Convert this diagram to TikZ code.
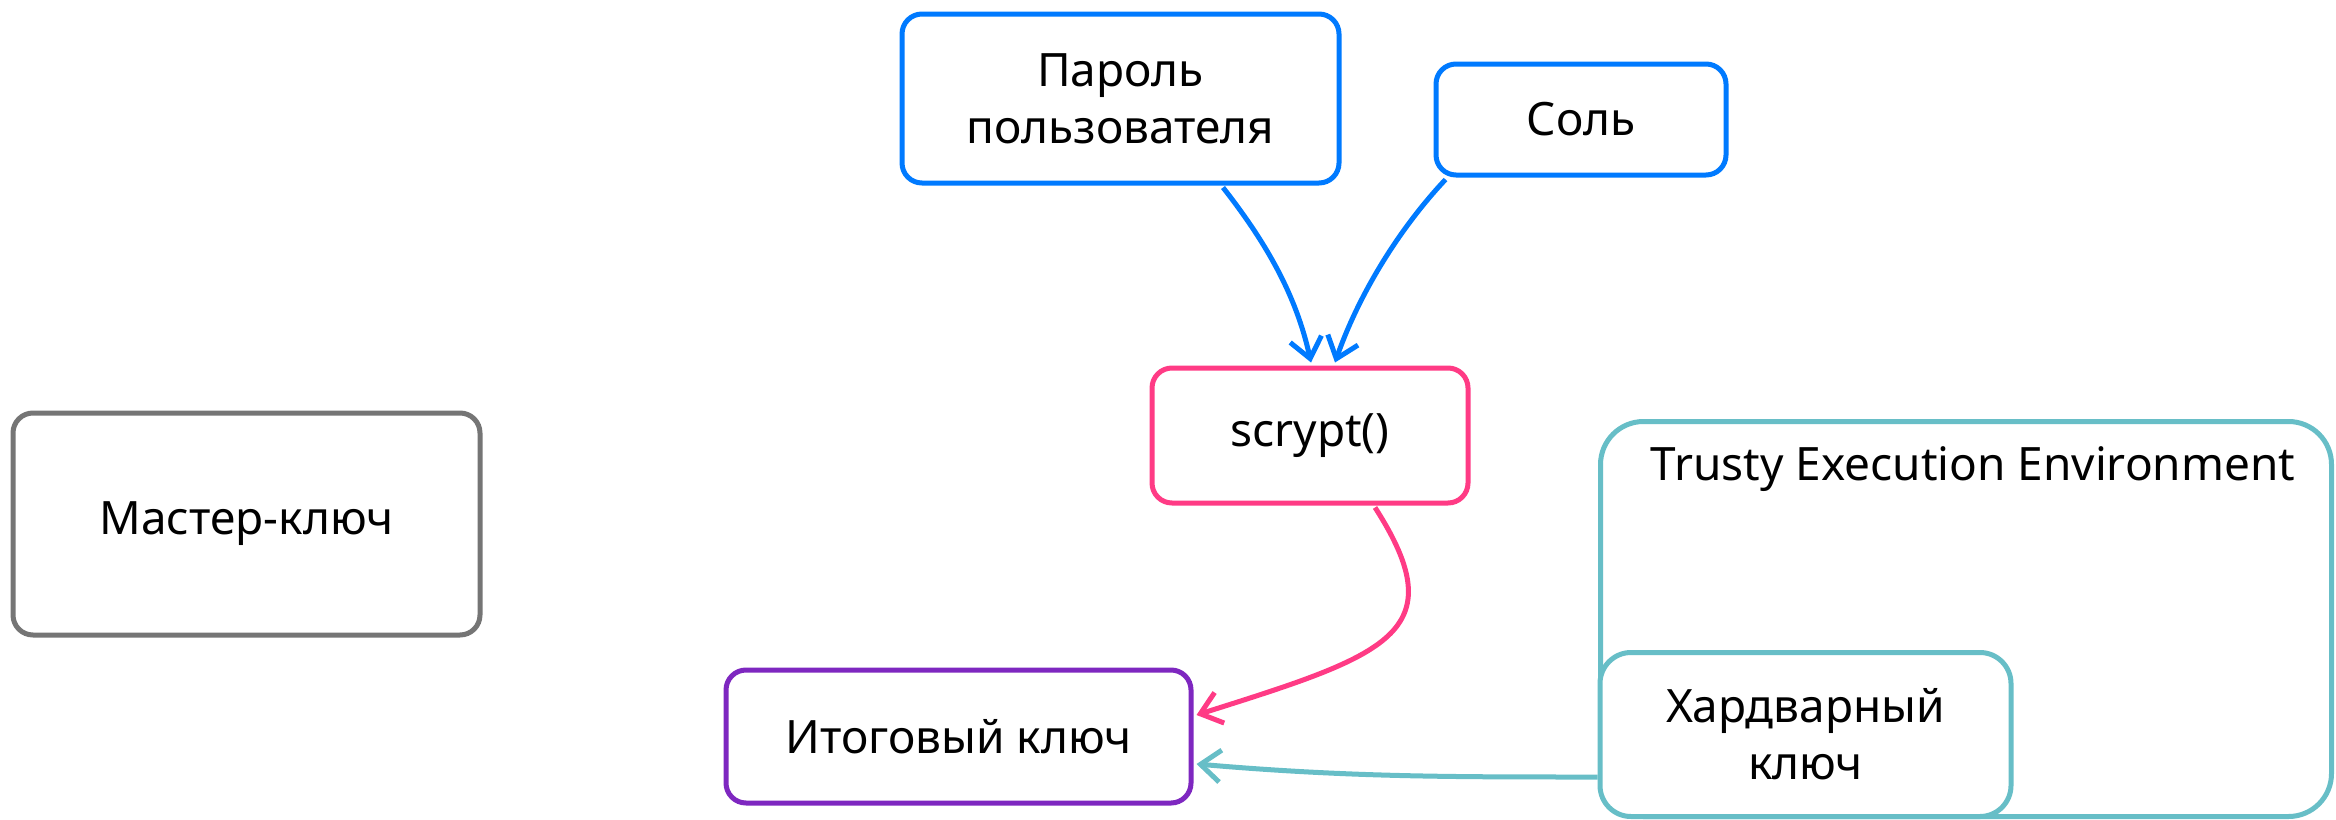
\documentclass[tikz,border=0pt]{standalone}
\usepackage{fontspec}
\setmainfont{Noto Sans}
\usetikzlibrary{arrows.meta,calc}
\definecolor{cblue}{RGB}{0,122,255}
\definecolor{cpink}{RGB}{255,59,133}
\definecolor{cpurple}{RGB}{126,39,192}
\definecolor{cteal}{RGB}{103,190,199}
\definecolor{cgray}{RGB}{117,117,117}
\begin{document}
\begin{tikzpicture}[x=1pt,y=-1pt,
  box/.style={draw, line width=5pt, rounded corners=20pt, fill=white, inner sep=0pt,
    align=center, font=\fontsize{46}{57}\selectfont},
  lbl/.style={inner sep=0pt, font=\fontsize{46}{57}\selectfont},
  arr/.style={line width=5pt, -{Straight Barb[length=20pt,width=32pt]}}]
\useasboundingbox (0,0) rectangle (2336,819);
% nodes
\node[box, draw=cblue, minimum width=437pt, minimum height=169pt] (pass) at (1120.5,98.5) {Пароль\\пользователя};
\node[box, draw=cblue, minimum width=290pt, minimum height=111pt] (salt) at (1581,119.5) {Соль};
\node[box, draw=cpink, minimum width=316pt, minimum height=135pt] (scrypt) at (1310,435.5) {scrypt()};
\node[box, draw=cgray, minimum width=467pt, minimum height=222pt] (master) at (246.5,524) {Мастер-ключ};
\node[box, draw=cpurple, minimum width=465pt, minimum height=133pt] (final) at (958.5,736.5) {Итоговый ключ};
\node[box, draw=cteal, rounded corners=43pt, minimum width=731pt, minimum height=395pt] (tee) at (1966,619) {};
\node[lbl, anchor=base] (teelab) at (1973,480) {Trusty Execution Environment};
\node[box, draw=cteal, rounded corners=31pt, minimum width=411pt, minimum height=164pt] (hw) at (1805.5,734.5) {Хардварный\\ключ};
% connectors
\draw[arr, cblue] ($(pass.south)+(102.5,2)$) .. controls +(43,55) and +(-15,-68) .. ($(scrypt.north)+(1,-3)$);
\draw[arr, cblue] ($(salt.south west)+(12,2)$) .. controls +(-48,51) and +(23,-66) .. ($(scrypt.north)+(25,-3)$);
\draw[arr, cpink] ($(scrypt.south)+(65,2)$) .. controls +(81,126) and +(190,-60) .. ($(final.east)+(3,-21.5)$);
\draw[arr, cteal] ($(hw.west)+(0,42.5)$) .. controls +(-150,0) and +(150,13) .. ($(final.east)+(3,27.5)$);
\end{tikzpicture}
\end{document}
